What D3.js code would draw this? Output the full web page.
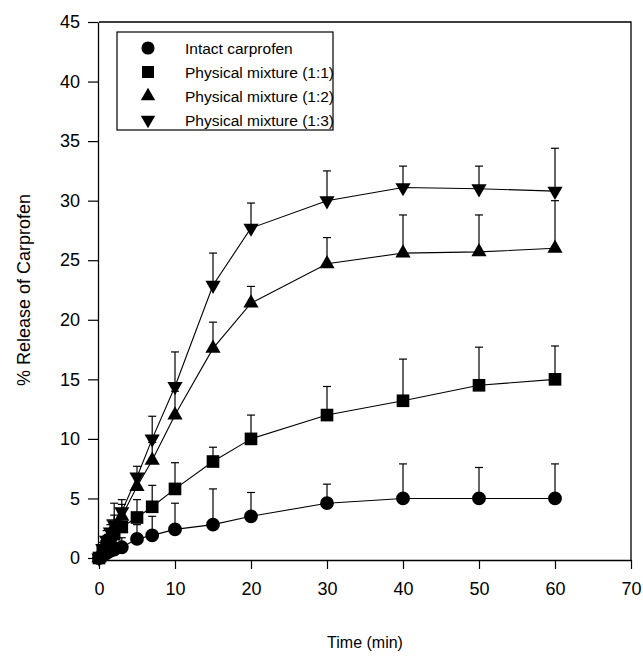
<!DOCTYPE html>
<html>
<head>
<meta charset="utf-8">
<script src="https://cdn.jsdelivr.net/npm/d3@7"></script>
<style>
  body { margin: 0; background: #fff; }
  svg { font-family: "Liberation Sans", Arial, sans-serif; }
</style>
</head>
<body>
<div id="chart"></div>
<script>
// sampling times (min)
const times = [0, 0.5, 1, 1.5, 2, 3, 5, 7, 10, 15, 20, 30, 40, 50, 60];

// mean % release and upper SD for each formulation
const intactMean = [0, 0.2, 0.4, 0.6, 0.7, 0.9, 1.6, 1.9, 2.4, 2.8, 3.5, 4.6, 5.0, 5.0, 5.0];
const intactSD   = [0.2, 0.3, 0.4, 0.5, 0.6, 0.8, 1.2, 1.6, 2.2, 3.0, 2.0, 1.6, 2.9, 2.6, 2.9];
const pm11Mean = [0, 0.5, 1.0, 1.5, 2.0, 2.6, 3.4, 4.3, 5.8, 8.1, 10.0, 12.0, 13.2, 14.5, 15.0];
const pm11SD   = [0.2, 0.4, 0.6, 0.8, 1.0, 1.2, 1.5, 1.8, 2.2, 1.2, 2.0, 2.4, 3.5, 3.2, 2.8];
const pm12Mean = [0, 0.7, 1.3, 2.0, 2.6, 3.5, 6.0, 8.2, 12.0, 17.6, 21.4, 24.7, 25.6, 25.7, 26.0];
const pm12SD   = [0.2, 0.4, 0.6, 0.8, 1.0, 1.0, 1.0, 1.5, 2.0, 2.2, 1.4, 2.2, 3.2, 3.1, 4.0];
const pm13Mean = [0, 0.8, 1.5, 2.2, 2.8, 3.9, 6.8, 10.0, 14.4, 22.9, 27.7, 30.0, 31.1, 31.0, 30.8];
const pm13SD   = [0.2, 0.5, 0.8, 1.0, 1.8, 1.0, 0.9, 1.9, 2.9, 2.7, 2.1, 2.5, 1.8, 1.9, 3.6];

const seriesNames = ["Intact carprofen", "Physical mixture (1:1)", "Physical mixture (1:2)", "Physical mixture (1:3)"];
const xTicks = [0, 10, 20, 30, 40, 50, 60, 70];
const yTicks = [0, 5, 10, 15, 20, 25, 30, 35, 40, 45];

const series = [
    { name: seriesNames[0], mean: intactMean, sd: intactSD, shape: d3.symbolCircle, size: 150, rot: 0 },
    { name: seriesNames[1], mean: pm11Mean, sd: pm11SD, shape: d3.symbolSquare, size: 160, rot: 0 },
    { name: seriesNames[2], mean: pm12Mean, sd: pm12SD, shape: d3.symbolTriangle, size: 100, rot: 0 },
    { name: seriesNames[3], mean: pm13Mean, sd: pm13SD, shape: d3.symbolTriangle, size: 100, rot: 180 }
];

const width = 643, height = 659;

const svg = d3.select("#chart")
    .append("svg")
    .attr("width", width)
    .attr("height", height);

const x = d3.scaleLinear().domain([0, 70]).range([99, 631]);
const y = d3.scaleLinear().domain([0, 45]).range([558, 22]);

// frame (top and right)
svg.append("path")
    .attr("d", `M${x(0)},${y(45)}H${x(70)}V${y(0) + 2}`)
    .attr("fill", "none")
    .attr("stroke", "#000")
    .attr("stroke-width", 1.3);

// axes
const xAxis = svg.append("g")
    .attr("transform", `translate(0,${y(0) + 2})`)
    .call(d3.axisBottom(x).tickValues(xTicks).tickSize(9).tickSizeOuter(0).tickPadding(13));

const yAxis = svg.append("g")
    .attr("transform", `translate(${x(0) - 1},0)`)
    .call(d3.axisLeft(y).tickValues(yTicks).tickSize(10).tickSizeOuter(0).tickPadding(8));

[xAxis, yAxis].forEach(g => {
    g.select(".domain").attr("stroke-width", 1.3);
    g.selectAll(".tick line").attr("stroke-width", 1.2);
    g.selectAll("text").attr("font-size", 18).attr("fill", "#000")
        .attr("font-family", "Liberation Sans, Arial, sans-serif");
});

// axis titles
svg.append("text")
    .attr("x", (x(0) + x(70)) / 2)
    .attr("y", 648)
    .attr("text-anchor", "middle")
    .attr("font-size", 16)
    .text("Time (min)");

svg.append("text")
    .attr("transform", `translate(30,${(y(0) + y(45)) / 2}) rotate(-90)`)
    .attr("text-anchor", "middle")
    .attr("font-size", 18)
    .text("% Release of Carprofen");

const line = d3.line()
    .x((d, i) => x(times[i]))
    .y(d => y(d));

// error bars (upper only)
series.forEach(s => {
    const g = svg.append("g");
    s.mean.forEach((m, i) => {
        const cx = x(times[i]);
        g.append("line")
            .attr("x1", cx).attr("x2", cx)
            .attr("y1", y(m)).attr("y2", y(m + s.sd[i]))
            .attr("stroke", "#000").attr("stroke-width", 1.2);
        g.append("line")
            .attr("x1", cx - 4).attr("x2", cx + 4)
            .attr("y1", y(m + s.sd[i])).attr("y2", y(m + s.sd[i]))
            .attr("stroke", "#000").attr("stroke-width", 1.2);
    });
});

// lines
series.forEach(s => {
    svg.append("path")
        .datum(s.mean)
        .attr("d", line)
        .attr("fill", "none")
        .attr("stroke", "#000")
        .attr("stroke-width", 1.1);
});

// markers
series.forEach(s => {
    svg.append("g")
        .selectAll("path")
        .data(s.mean)
        .enter()
        .append("path")
        .attr("d", d3.symbol().type(s.shape).size(s.size))
        .attr("transform", (d, i) => `translate(${x(times[i])},${y(d)}) rotate(${s.rot})`)
        .attr("fill", "#000");
});

// legend
const legend = svg.append("g");
legend.append("rect")
    .attr("x", 117).attr("y", 32)
    .attr("width", 216).attr("height", 98)
    .attr("fill", "#fff")
    .attr("stroke", "#000")
    .attr("stroke-width", 1.2);

series.forEach((s, i) => {
    const ly = 48 + i * 24;
    legend.append("path")
        .attr("d", d3.symbol().type(s.shape).size(s.size * 0.9))
        .attr("transform", `translate(148,${ly}) rotate(${s.rot})`)
        .attr("fill", "#000");
    legend.append("text")
        .attr("x", 185)
        .attr("y", ly + 6)
        .attr("font-size", 15.5)
        .text(s.name);
});
</script>
</body>
</html>
